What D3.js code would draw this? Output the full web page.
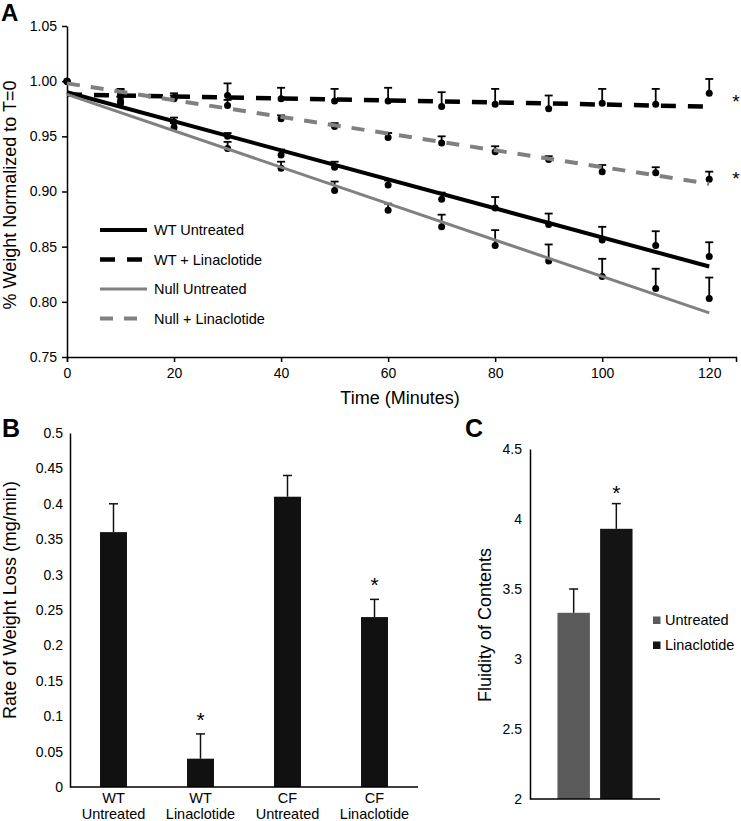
<!DOCTYPE html>
<html><head><meta charset="utf-8">
<script src="https://cdn.jsdelivr.net/npm/d3@7"></script>
<style>
body{margin:0;background:#fff}
svg{display:block}
text{font-family:"Liberation Sans",Arial,Helvetica,sans-serif;fill:#000}
</style>
</head><body>
<svg id="chart" width="741" height="821"></svg>
<script>
// ---------- Panel A data ----------
const aTimes = [0,10,20,30,40,50,60,70,80,90,100,110,120];
const aXTicks = [0,20,40,60,80,100,120];
const aYTicks = [0.75,0.80,0.85,0.90,0.95,1.00,1.05];
const aSeriesNames = ["WT Untreated","WT + Linaclotide","Null Untreated","Null + Linaclotide"];
const wtUntreated      = [1.000,0.980,0.963,0.950,0.933,0.922,0.906,0.893,0.885,0.870,0.856,0.851,0.841];
const wtUntreatedErr   = [0,0.006,0.004,0.003,0.005,0.005,0.004,0.006,0.010,0.010,0.012,0.013,0.013];
const wtLina           = [1.000,0.986,0.985,0.987,0.984,0.982,0.982,0.977,0.979,0.975,0.980,0.979,0.989];
const wtLinaErr        = [0,0.007,0.004,0.011,0.010,0.011,0.012,0.013,0.014,0.012,0.013,0.014,0.013];
const nullUntreated    = [1.000,0.982,0.958,0.939,0.921,0.901,0.883,0.868,0.851,0.837,0.823,0.812,0.803];
const nullUntreatedErr = [0,0.004,0.004,0.006,0.006,0.008,0.006,0.011,0.014,0.015,0.016,0.018,0.019];
const nullLina         = [1.000,0.989,0.984,0.978,0.966,0.959,0.949,0.944,0.936,0.929,0.918,0.917,0.911];
const nullLinaErr      = [0,0.003,0.003,0.005,0.003,0.003,0.004,0.006,0.005,0.003,0.006,0.005,0.007];
// trend lines (value at t=0, value at t=120)
const wtUntreatedTrend   = [0.990,0.832];
const wtLinaTrend        = [0.988,0.977];
const nullUntreatedTrend = [0.988,0.790];
const nullLinaTrend      = [0.998,0.907];
const aSignificant = [false,true,false,true];

// ---------- Panel B data ----------
const bCategories = [["WT","Untreated"],["WT","Linaclotide"],["CF","Untreated"],["CF","Linaclotide"]];
const bValues = [0.36,0.04,0.41,0.24];
const bErrors = [0.04,0.035,0.03,0.025];
const bSignificant = [false,true,false,true];
const bYTicks = [0,0.05,0.1,0.15,0.2,0.25,0.3,0.35,0.4,0.45,0.5];

// ---------- Panel C data ----------
const cSeries = ["Untreated","Linaclotide"];
const cValues = [3.33,3.93];
const cErrors = [0.17,0.18];
const cSignificant = [false,true];
const cYTicks = [2,2.5,3,3.5,4,4.5];

const FONT = '"Liberation Sans",Arial,Helvetica,sans-serif';
const svg = d3.select("#chart");

function styleAxis(g){
  g.selectAll(".domain").attr("stroke","#000").attr("stroke-width",1.5);
  g.selectAll(".tick line").attr("stroke","#000").attr("stroke-width",1.5);
  g.selectAll(".tick text").attr("font-size",14).attr("font-family",FONT).attr("fill","#000");
}

// ================= Panel A =================
const xA = d3.scaleLinear().domain([0,125]).range([67,736]);
const yA = d3.scaleLinear().domain([0.75,1.05]).range([357,26]);
const gA = svg.append("g");

gA.append("g").attr("transform","translate(0,357)")
  .call(d3.axisBottom(xA).tickValues(aXTicks).tickSize(5).tickSizeOuter(5).tickPadding(6).tickFormat(d3.format("d")))
  .call(styleAxis);
gA.append("g").attr("transform","translate(67,0)")
  .call(d3.axisLeft(yA).tickValues(aYTicks).tickSize(5).tickSizeOuter(0).tickPadding(5).tickFormat(d3.format(".2f")))
  .call(styleAxis);

gA.append("text").attr("x",400).attr("y",404).attr("text-anchor","middle")
  .attr("font-size",18).text("Time (Minutes)");
gA.append("text").attr("transform","translate(16,195) rotate(-90)").attr("text-anchor","middle")
  .attr("font-size",18).text("% Weight Normalized to T=0");
gA.append("text").attr("x",1).attr("y",21).attr("font-size",24).attr("font-weight","bold").text("A");

const aStyles = [
  {color:"#000",   width:4,   dash:null},
  {color:"#000",   width:4.5, dash:"15,12"},
  {color:"#808080",width:3,   dash:null},
  {color:"#808080",width:4,   dash:"13,11"}
];
const aData = [
  {vals:wtUntreated,err:wtUntreatedErr,trend:wtUntreatedTrend},
  {vals:wtLina,err:wtLinaErr,trend:wtLinaTrend},
  {vals:nullUntreated,err:nullUntreatedErr,trend:nullUntreatedTrend},
  {vals:nullLina,err:nullLinaErr,trend:nullLinaTrend}
];
const tEnd = aTimes[aTimes.length-1];

aData.forEach((s,si)=>{
  const g = gA.append("g");
  aTimes.forEach((t,i)=>{
    const x = xA(t), y0 = yA(s.vals[i]), y1 = yA(s.vals[i]+s.err[i]);
    if(s.err[i]>0){
      g.append("line").attr("x1",x).attr("x2",x).attr("y1",y0).attr("y2",y1).attr("stroke","#000").attr("stroke-width",1.8);
      g.append("line").attr("x1",x-4).attr("x2",x+4).attr("y1",y1).attr("y2",y1).attr("stroke","#000").attr("stroke-width",1.8);
    }
    g.append("circle").attr("cx",x).attr("cy",y0).attr("r",3.5).attr("fill","#000");
  });
});
aData.forEach((s,si)=>{
  const st = aStyles[si];
  gA.append("line")
    .attr("x1",xA(0)).attr("y1",yA(s.trend[0]))
    .attr("x2",xA(tEnd)).attr("y2",yA(s.trend[1]))
    .attr("stroke",st.color).attr("stroke-width",st.width)
    .attr("stroke-dasharray",st.dash);
  if(aSignificant[si]){
    gA.append("text").attr("x",736).attr("y",yA(s.trend[1])+1)
      .attr("text-anchor","middle").attr("font-size",19).text("*");
  }
});
aSeriesNames.forEach((name,i)=>{
  const st = aStyles[i];
  const y = 230 + i*29.5;
  gA.append("line").attr("x1",100).attr("x2",147).attr("y1",y).attr("y2",y)
    .attr("stroke",st.color).attr("stroke-width",st.width).attr("stroke-dasharray",st.dash);
  gA.append("text").attr("x",154).attr("y",y+5).attr("font-size",14.5).text(name);
});

// ================= Panel B =================
const xB = d3.scaleBand().domain(bCategories.map(c=>c.join(" "))).range([70,418]).paddingInner(0.69).paddingOuter(0.345);
const yB = d3.scaleLinear().domain([0,0.5]).range([787,433]);
const gB = svg.append("g");

gB.append("g").attr("transform","translate(70,0)")
  .call(d3.axisLeft(yB).tickValues(bYTicks).tickSize(0).tickPadding(7).tickFormat(d=>String(+d.toFixed(2))))
  .call(styleAxis);

bCategories.forEach((c,i)=>{
  const key = c.join(" ");
  const x = xB(key), w = xB.bandwidth(), cx = x + w/2;
  gB.append("rect").attr("x",x).attr("y",yB(bValues[i])).attr("width",w)
    .attr("height",yB(0)-yB(bValues[i])).attr("fill","#111");
  const yt = yB(bValues[i]+bErrors[i]);
  gB.append("line").attr("x1",cx).attr("x2",cx).attr("y1",yB(bValues[i])).attr("y2",yt).attr("stroke","#111").attr("stroke-width",1.5);
  gB.append("line").attr("x1",cx-4.5).attr("x2",cx+4.5).attr("y1",yt).attr("y2",yt).attr("stroke","#111").attr("stroke-width",1.5);
  if(bSignificant[i]){
    gB.append("text").attr("x",cx).attr("y",yt-7).attr("text-anchor","middle").attr("font-size",21).text("*");
  }
  gB.append("text").attr("x",cx).attr("y",803).attr("text-anchor","middle").attr("font-size",14.5).text(c[0]);
  gB.append("text").attr("x",cx).attr("y",819).attr("text-anchor","middle").attr("font-size",14.5).text(c[1]);
});
gB.append("line").attr("x1",70).attr("x2",418).attr("y1",787).attr("y2",787).attr("stroke","#000").attr("stroke-width",1.5);

gB.append("text").attr("transform","translate(16,600) rotate(-90)").attr("text-anchor","middle")
  .attr("font-size",18).text("Rate of Weight Loss (mg/min)");
gB.append("text").attr("x",2).attr("y",437).attr("font-size",25).attr("font-weight","bold").text("B");

// ================= Panel C =================
const yC = d3.scaleLinear().domain([2,4.5]).range([799,449]);
const x0C = d3.scaleBand().domain(["group"]).range([530,660]).paddingInner(0).paddingOuter(0.262);
const x1C = d3.scaleBand().domain(cSeries).range([0,x0C.bandwidth()]).paddingInner(0.24).paddingOuter(0.12);
const cColors = ["#5b5b5b","#141414"];
const gC = svg.append("g");

gC.append("g").attr("transform","translate(530,0)")
  .call(d3.axisLeft(yC).tickValues(cYTicks).tickSize(0).tickPadding(8).tickFormat(d=>String(d)))
  .call(styleAxis);

cSeries.forEach((s,i)=>{
  const x = x0C("group") + x1C(s), w = x1C.bandwidth(), cx = x + w/2;
  gC.append("rect").attr("x",x).attr("y",yC(cValues[i])).attr("width",w)
    .attr("height",yC(2)-yC(cValues[i])).attr("fill",cColors[i]);
  const yt = yC(cValues[i]+cErrors[i]);
  gC.append("line").attr("x1",cx).attr("x2",cx).attr("y1",yC(cValues[i])).attr("y2",yt).attr("stroke","#111").attr("stroke-width",1.5);
  gC.append("line").attr("x1",cx-4.5).attr("x2",cx+4.5).attr("y1",yt).attr("y2",yt).attr("stroke","#111").attr("stroke-width",1.5);
  if(cSignificant[i]){
    gC.append("text").attr("x",cx).attr("y",yt-4).attr("text-anchor","middle").attr("font-size",21).text("*");
  }
  const ly = 620 + i*25;
  gC.append("rect").attr("x",653).attr("y",ly-3.5).attr("width",7.5).attr("height",7.5).attr("fill",cColors[i]);
  gC.append("text").attr("x",665).attr("y",ly+5).attr("font-size",14.5).text(s);
});
gC.append("line").attr("x1",530).attr("x2",660).attr("y1",799).attr("y2",799).attr("stroke","#000").attr("stroke-width",1.5);

gC.append("text").attr("transform","translate(491,625) rotate(-90)").attr("text-anchor","middle")
  .attr("font-size",18).text("Fluidity of Contents");
gC.append("text").attr("x",465).attr("y",437).attr("font-size",25).attr("font-weight","bold").text("C");
</script>
</body></html>
